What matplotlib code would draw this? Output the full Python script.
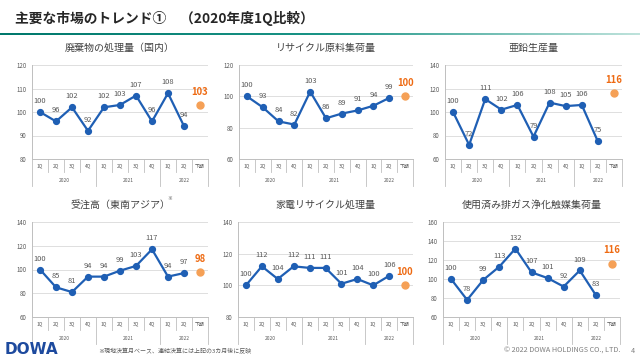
import matplotlib
matplotlib.use('Agg')
import matplotlib.pyplot as plt
import matplotlib.transforms as mtransforms
from matplotlib.colors import LinearSegmentedColormap
import numpy as np

plt.rcParams['font.family'] = ['Noto Sans CJK JP', 'DejaVu Sans']

quarters = ['1Q', '2Q', '3Q', '4Q', '1Q', '2Q', '3Q', '4Q', '1Q', '2Q', '下期']
years = ['2020', '2021', '2022']
year_spans = [(0, 3), (4, 7), (8, 10)]

titles = ['廃棄物の処理量（国内）', 'リサイクル原料集荷量', '亜鉛生産量',
          '受注高（東南アジア）', '家電リサイクル処理量', '使用済み排ガス浄化触媒集荷量']
haiki = [100, 96, 102, 92, 102, 103, 107, 96, 108, 94]
recycle = [100, 93, 84, 82, 103, 86, 89, 91, 94, 99]
aen = [100, 72, 111, 102, 106, 79, 108, 105, 106, 75]
juchu = [100, 85, 81, 94, 94, 99, 103, 117, 94, 97]
kaden = [100, 112, 104, 112, 111, 111, 101, 104, 100, 106]
shokubai = [100, 78, 99, 113, 132, 107, 101, 92, 109, 83]
series = [haiki, recycle, aen, juchu, kaden, shokubai]
forecast = [103, 100, 116, 98, 100, 116]
y_ranges = [(80, 120, 10), (60, 120, 20), (60, 140, 20),
            (60, 140, 20), (80, 140, 20), (60, 160, 20)]

BLUE = '#1f5fb4'
ORANGE_DOT = '#f5a056'
ORANGE_TXT = '#ee6a12'
GRAY = '#595959'
SEP = '#bfbfbf'

W, H = 640, 360
fig = plt.figure(figsize=(6.4, 3.6), dpi=100)

# header
fig.text(15 / W, 1 - 18 / H, '主要な市場のトレンド①　（2020年度1Q比較）',
         fontsize=9.9, fontweight='bold', color='#262626', va='center', ha='left')
bar = fig.add_axes([0, 1 - 35 / H, 1, 2.5 / H])
cmap = LinearSegmentedColormap.from_list('g', ['#00786c', '#1a9486', '#bfe3dc'])
bar.imshow(np.linspace(0, 1, 256).reshape(1, -1), aspect='auto', cmap=cmap)
bar.axis('off')

# axes boxes in pixels: left, right, top, bottom
boxes = [(32, 208, 65, 159), (239, 413, 65, 159), (445, 622, 65, 159),
         (32, 208, 222, 317), (238, 413, 222, 317), (443, 620, 222, 317)]

for k, (l, r, t, b) in enumerate(boxes):
    ax = fig.add_axes([l / W, 1 - b / H, (r - l) / W, (b - t) / H])
    lo, hi, step = y_ranges[k]
    vals = series[k]
    x = np.arange(len(vals))
    ax.set_xlim(-0.5, 10.5)
    ax.set_ylim(lo, hi)
    ax.set_yticks(np.arange(lo, hi + 1, step))
    ax.tick_params(axis='y', length=0, labelsize=4.4, labelcolor=GRAY, pad=4)
    ax.set_xticks([])
    for s in ['top', 'right']:
        ax.spines[s].set_visible(False)
    for s in ['left', 'bottom']:
        ax.spines[s].set_color(SEP)
        ax.spines[s].set_linewidth(0.7)
    ax.grid(axis='y', color='#d9d9d9', linewidth=0.6)
    ax.set_axisbelow(True)

    ax.plot(x, vals, color=BLUE, linewidth=1.6, marker='o', markersize=4.2, zorder=3)
    for xi, v in zip(x, vals):
        ax.annotate(str(v), (xi, v), xytext=(0, 5), textcoords='offset points',
                    ha='center', va='bottom', fontsize=5.4, color=GRAY)
    ax.plot([10], [forecast[k]], 'o', color=ORANGE_DOT, markersize=5, zorder=3)
    ax.annotate(str(forecast[k]), (10, forecast[k]), xytext=(0, 6), textcoords='offset points',
                ha='center', va='bottom', fontsize=6.8, fontweight='bold', color=ORANGE_TXT)

    ax.set_title(titles[k], fontsize=7.2, color='#404040', pad=10)

    # multi-level category axis
    trans = mtransforms.blended_transform_factory(ax.transData, ax.transAxes)
    hpx = b - t

    def fy(px):
        return -px / hpx

    for i in range(10):
        xs = i + 0.5
        if xs not in (3.5, 7.5):
            ax.plot([xs, xs], [0, fy(13)], color=SEP, lw=0.6, transform=trans, clip_on=False)
    for xs in (-0.5, 3.5, 7.5, 10.5):
        ax.plot([xs, xs], [0, fy(27)], color=SEP, lw=0.6, transform=trans, clip_on=False)
    for i, q in enumerate(quarters):
        ax.text(i, fy(7), q, transform=trans, ha='center', va='center', fontsize=3.5, color=GRAY)
    for yr, (a, c) in zip(years, year_spans):
        ax.text((a + c) / 2, fy(21), yr, transform=trans, ha='center', va='center',
                fontsize=3.5, color=GRAY)

fig.text(170 / W, 1 - 198 / H, '※', fontsize=3.5, color=GRAY, ha='center', va='center')

# footer
fig.text(5 / W, 1 - 350 / H, 'DOWA', fontsize=11, fontweight='heavy', color='#1d4a9e',
         family='DejaVu Sans', ha='left', va='center')
fig.text(98 / W, 1 - 351 / H, '※現地決算月ベース、連結決算には上記の3カ月後に反映',
         fontsize=4.3, color=GRAY, ha='left', va='center')
fig.text(620 / W, 1 - 351 / H, '© 2022 DOWA HOLDINGS CO., LTD.', fontsize=5.2,
         color='#7f7f7f', ha='right', va='center')
fig.text(633 / W, 1 - 351 / H, '4', fontsize=5.2, color='#7f7f7f', ha='center', va='center')

fig.savefig('out.png', dpi=100)
